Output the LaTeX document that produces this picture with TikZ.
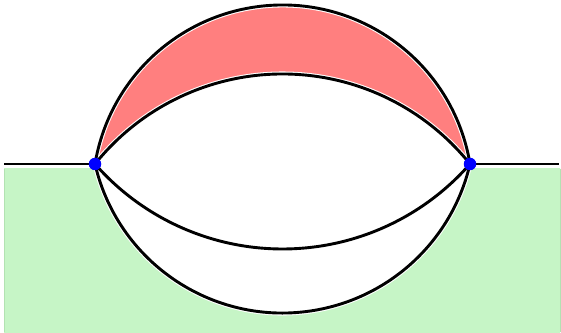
\documentclass[tikz,border=0pt]{standalone}
\usetikzlibrary{calc}
\definecolor{redfill}{HTML}{FF7F7F}
\definecolor{greenfill}{HTML}{C6F5C6}
\definecolor{greenedge}{HTML}{B2E2B2}
\tikzset{
  halo/.style={draw=white, line width=5pt},
  curve/.style={draw=black, line width=2.9pt},
  dot/.style={circle, fill=blue, inner sep=0pt, minimum size=12.5pt}
}
\begin{document}
\begin{tikzpicture}[x=1pt,y=1pt]
\useasboundingbox (0,0) rectangle (561,332);
\coordinate (P1) at (95,168);
\coordinate (P2) at (470,168);
\coordinate (L) at (4,168);
\coordinate (R) at (559,168);
% green ground
\begin{scope}
  \clip (4,0) rectangle (560,163);
  \fill[greenfill, even odd rule] (4,-5) rectangle (560,175)
    (P1) arc[start angle=193.05, end angle=346.95, radius=192.47pt] -- cycle;
\end{scope}
\draw[greenedge, line width=0.6pt] (4,163) -- (4,0) (560,0) -- (560,163);
% red region
\fill[redfill] (P2) arc[start angle=9.40, end angle=170.60, radius=190.05pt]
  arc[start angle=141.29, end angle=38.71, radius=240.3pt] -- cycle;
% halos
\draw[halo] (P2) arc[start angle=9.40, end angle=170.60, radius=190.05pt];
\draw[halo] (P1) arc[start angle=193.05, end angle=346.95, radius=192.47pt];
\draw[halo] (P1) arc[start angle=141.29, end angle=38.71, radius=240.3pt];
\draw[halo] (P1) arc[start angle=221.23, end angle=318.77, radius=249.3pt];
% black curves
\draw[curve] (P2) arc[start angle=9.40, end angle=170.60, radius=190.05pt];
\draw[curve] (P1) arc[start angle=193.05, end angle=346.95, radius=192.47pt];
\draw[curve] (P1) arc[start angle=141.29, end angle=38.71, radius=240.3pt];
\draw[curve] (P1) arc[start angle=221.23, end angle=318.77, radius=249.3pt];
\draw[curve] (L) -- (P1);
\draw[curve] (P2) -- (R);
% points
\node[dot] (d1) at (P1) {};
\node[dot] (d2) at (P2) {};
\end{tikzpicture}
\end{document}
